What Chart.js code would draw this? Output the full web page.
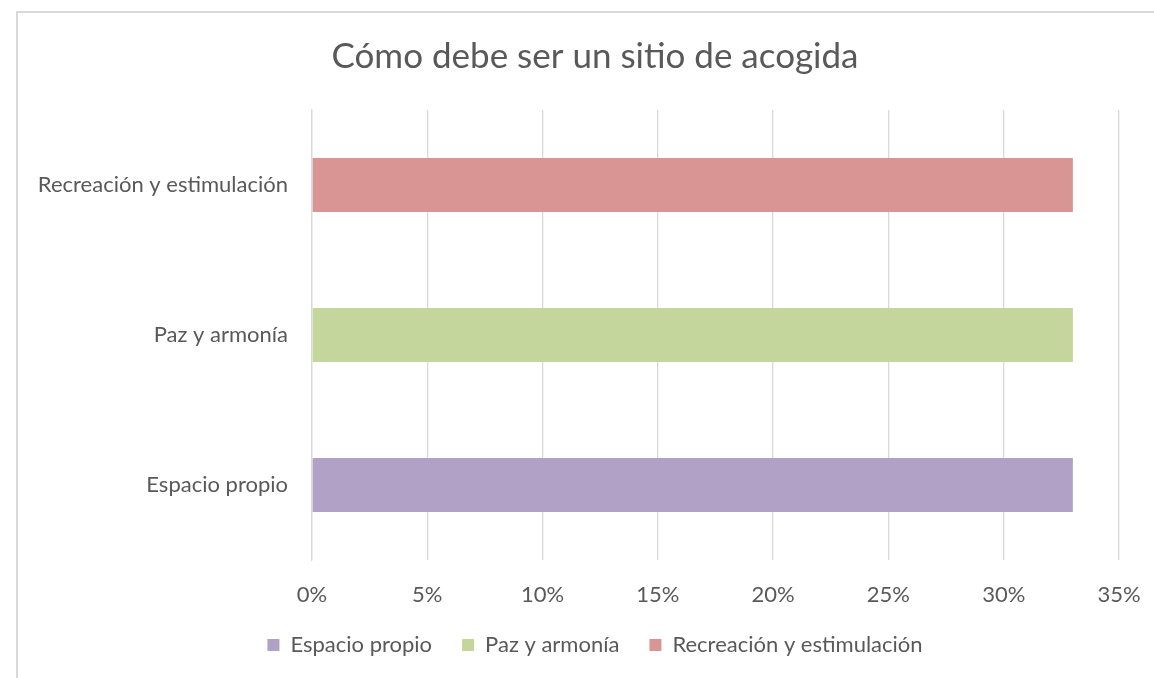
<!DOCTYPE html>
<html>
<head>
<meta charset="utf-8">
<title>Cómo debe ser un sitio de acogida</title>
<script src="https://cdn.jsdelivr.net/npm/chart.js@4"></script>
<style>
  html, body { margin: 0; padding: 0; background: #fff; overflow: hidden; }
  #frame {
    position: absolute; left: 16px; top: 11px;
    width: 1300px; height: 800px;
    border: 2px solid #d9d9d9; box-sizing: border-box;
  }
  #chart { position: absolute; left: 0; top: 0; }
</style>
</head>
<body>
<div id="frame"></div>
<canvas id="chart" width="1154" height="678"></canvas>
<script>
// Categories (bottom to top) and the share answered for each
const categories = ["Espacio propio", "Paz y armonía", "Recreación y estimulación"];
const shares = [33, 33, 33];
const colors = ["#b2a1c7", "#c4d69b", "#d99594"];
const xTicks = [0, 5, 10, 15, 20, 25, 30, 35];

const textColor = "#595959";
const gridColor = "#d9d9d9";
Chart.defaults.font.family = "Lato, 'Open Sans', sans-serif";
Chart.defaults.color = textColor;

// One series per category so every bar gets its own legend entry
const datasets = categories.map(function (name, i) {
  return {
    label: name,
    data: categories.map(function (_, j) { return j === i ? shares[i] : null; }),
    backgroundColor: colors[i],
    barPercentage: 0.36,
    categoryPercentage: 1
  };
});

// Title and legend are centred on the whole frame, not on the plot column
const centreShift = {
  id: "centreShift",
  afterLayout: function (chart) {
    const dx = 27;
    [chart.titleBlock, chart.legend].forEach(function (box) {
      box.left += dx;
      box.right += dx;
    });
  }
};

new Chart(document.getElementById("chart"), {
  type: "bar",
  data: { labels: categories, datasets: datasets },
  plugins: [centreShift],
  options: {
    indexAxis: "y",
    responsive: false,
    animation: false,
    layout: { padding: { left: 17, right: 35, top: 0, bottom: 12 } },
    plugins: {
      title: {
        display: true,
        text: "Cómo debe ser un sitio de acogida",
        color: textColor,
        font: { size: 35, weight: "normal" },
        padding: { top: 36, bottom: 32 }
      },
      legend: {
        position: "bottom",
        labels: {
          boxWidth: 12,
          boxHeight: 12,
          padding: 30,
          color: textColor,
          font: { size: 22 }
        }
      },
      tooltip: { enabled: false }
    },
    scales: {
      x: {
        stacked: true,
        min: 0,
        max: 35,
        afterBuildTicks: function (scale) {
          scale.ticks = xTicks.map(function (v) { return { value: v }; });
        },
        afterFit: function (scale) {
          scale.height = 44;
          scale.paddingLeft = 0;
          scale.paddingRight = 0;
        },
        grid: { color: gridColor, lineWidth: 1.3, drawTicks: false },
        border: { display: false },
        ticks: {
          padding: 22,
          color: textColor,
          font: { size: 22 },
          callback: function (v) { return v + "%"; }
        }
      },
      y: {
        stacked: true,
        reverse: true,
        afterFit: function (scale) { scale.width = 295; },
        grid: { display: false, drawTicks: false },
        border: { display: true, color: gridColor, width: 1.3 },
        ticks: { padding: 24, color: textColor, font: { size: 22 } }
      }
    }
  }
});
</script>
</body>
</html>
